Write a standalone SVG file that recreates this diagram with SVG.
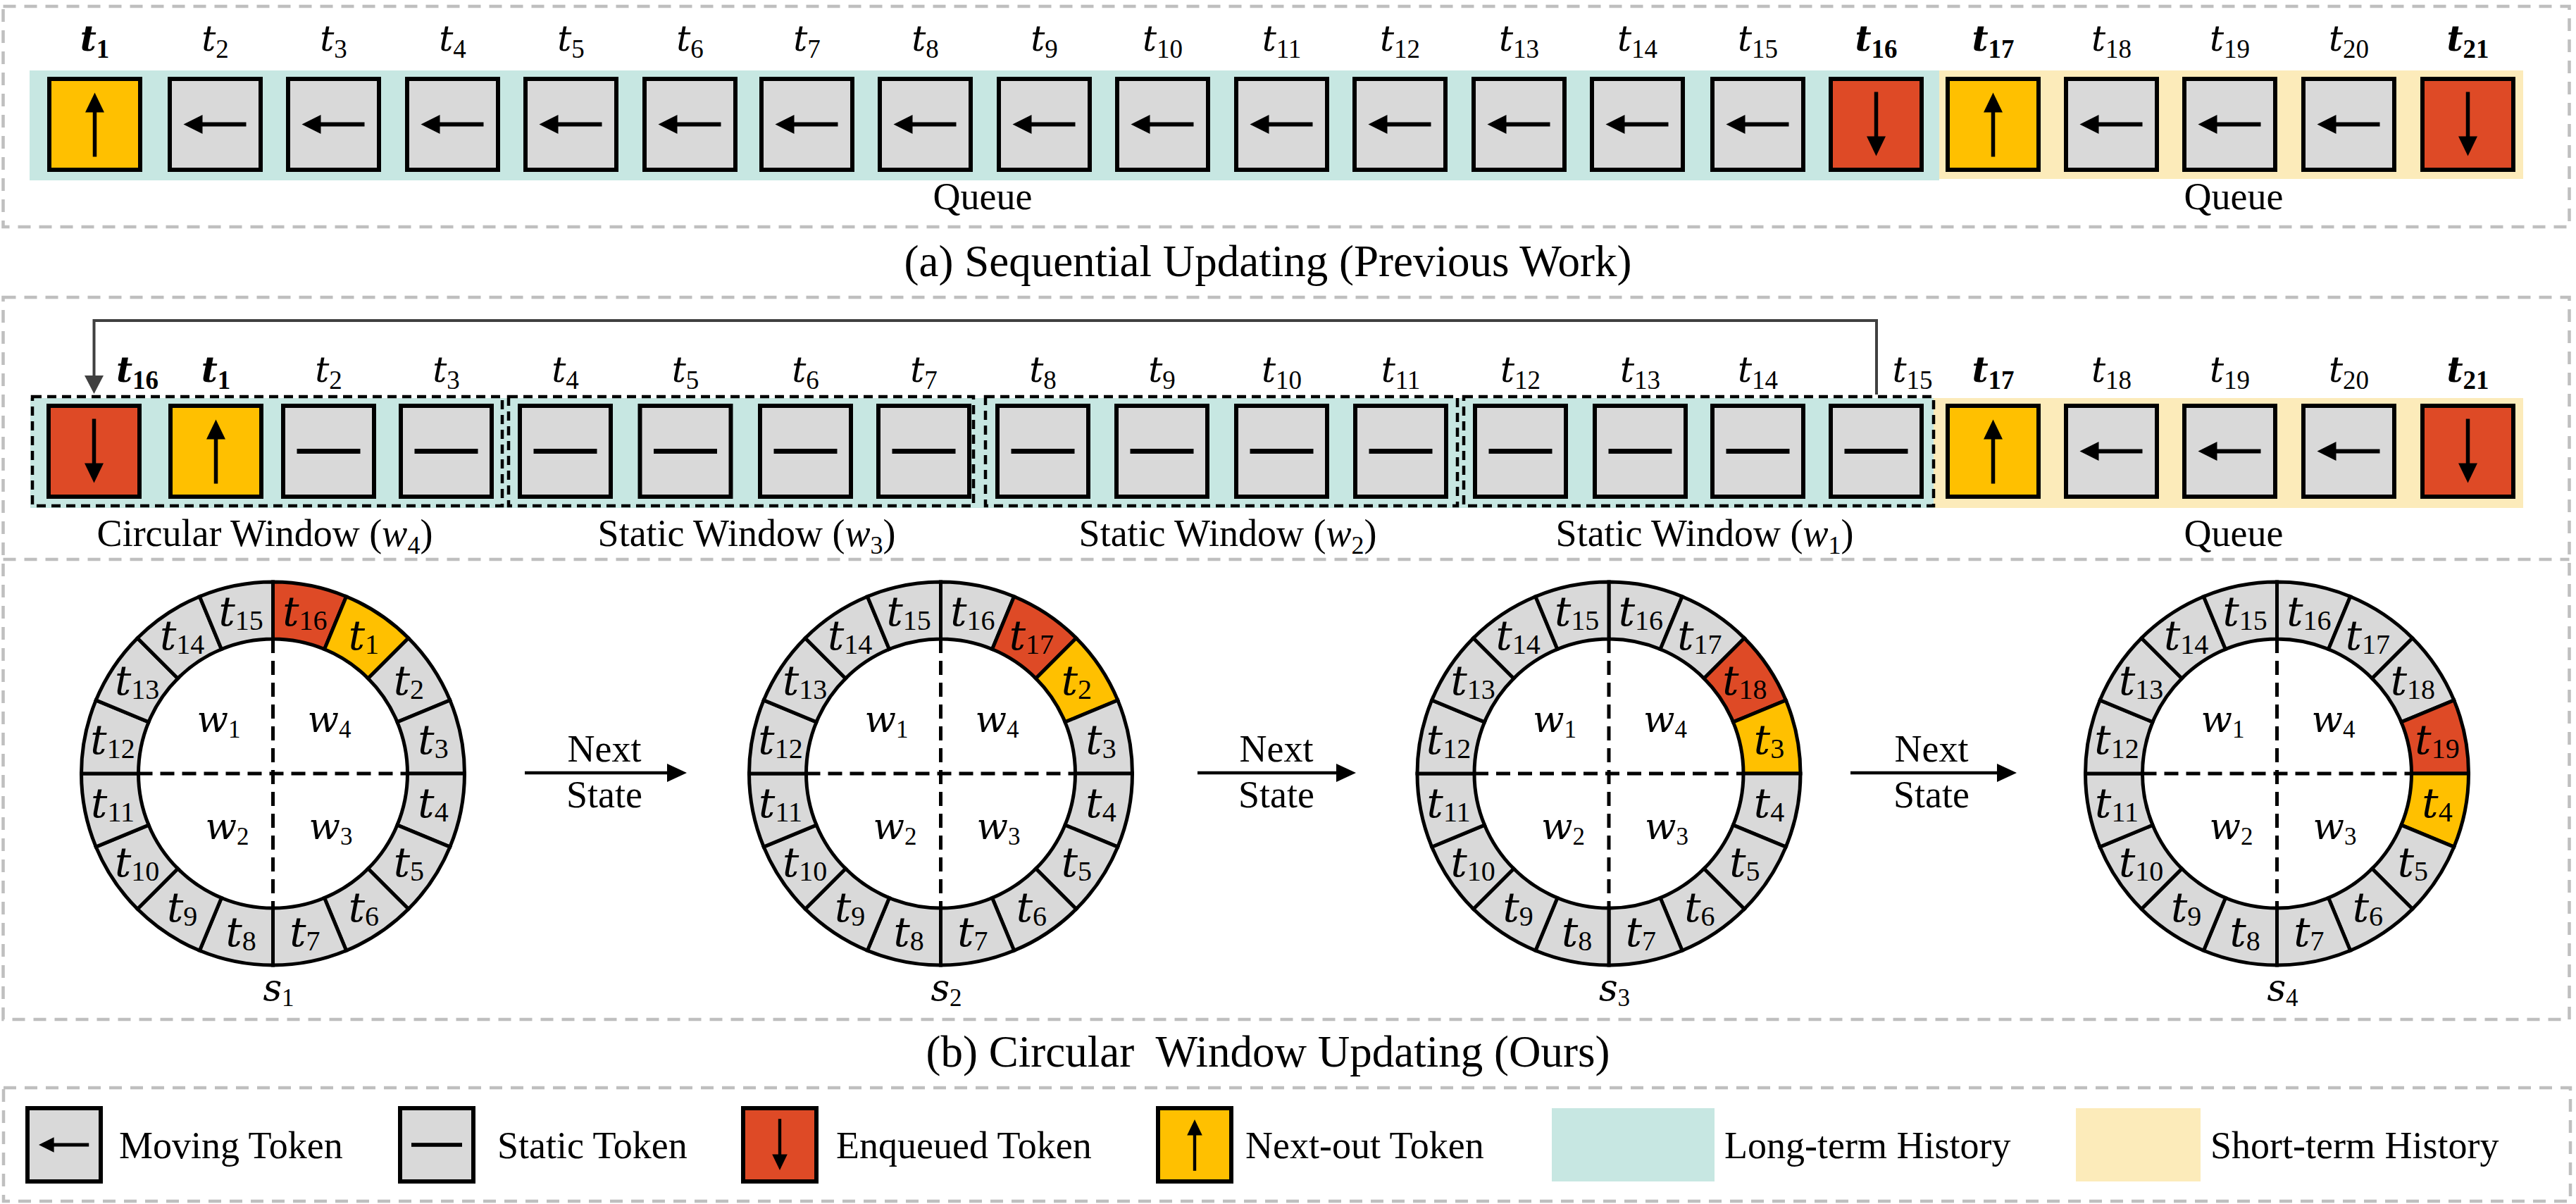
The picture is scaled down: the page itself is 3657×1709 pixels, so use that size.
<svg xmlns="http://www.w3.org/2000/svg" xmlns:xlink="http://www.w3.org/1999/xlink" width="3657" height="1709" viewBox="0 0 3657 1709">
<style>
.tk{stroke:#000;stroke-width:6}
.gy{fill:#D9D9D9}.rd{fill:#DE4A26}.yl{fill:#FFC000}
.lb{font-family:"DejaVu Serif",serif;font-style:italic;font-size:50px;text-anchor:middle;fill:#000}
.sb{font-family:"Liberation Serif",serif;font-style:normal;font-size:37px}
.b{font-weight:bold}
.tx{font-family:"Liberation Serif",serif;font-size:54px;fill:#000;text-anchor:middle}
.ts{text-anchor:start}
.cap{font-size:63px}
.wi{font-style:italic}
.ws{font-size:36px}
.panel{fill:none;stroke:#BFBFBF;stroke-width:4.5;stroke-dasharray:18 12}
.win{fill:none;stroke:#000;stroke-width:4.5;stroke-dasharray:13 8}
.sg{stroke:#000;stroke-width:5}
.cl{font-family:"DejaVu Serif",serif;font-style:italic;font-size:58px;text-anchor:middle;fill:#000}
.cs{font-family:"Liberation Serif",serif;font-style:normal;font-size:40px}
.wl{font-family:"DejaVu Serif",serif;font-style:italic;font-size:52px;text-anchor:middle;fill:#000}
.wsb{font-family:"Liberation Serif",serif;font-style:normal;font-size:35px}
.dl{stroke:#000;stroke-width:5;stroke-dasharray:20 11}
.teal{fill:#C7E7E2}.cream{fill:#FCEBBA}
</style>
<defs>
<marker id="ahg" viewBox="0 0 26 27" refX="8" refY="13.5" markerWidth="26" markerHeight="27" markerUnits="userSpaceOnUse" orient="auto"><path d="M0,0 L26,13.5 L0,27 Z" fill="#404040"/></marker>
<marker id="ahb" viewBox="0 0 28 26" refX="8" refY="13" markerWidth="28" markerHeight="26" markerUnits="userSpaceOnUse" orient="auto"><path d="M0,0 L28,13 L0,26 Z" fill="#000"/></marker>
<g id="gl"><line x1="44" y1="0" x2="-22" y2="0" stroke="#000" stroke-width="6"/><polygon points="-45,0 -18,-13.5 -18,13.5" fill="#000"/></g>
<g id="gu"><line x1="0" y1="46" x2="0" y2="-20" stroke="#000" stroke-width="5.5"/><polygon points="0,-45 -13.5,-17 13.5,-17" fill="#000"/></g>
<g id="gd"><line x1="0" y1="-46" x2="0" y2="20" stroke="#000" stroke-width="5.5"/><polygon points="0,45 -13.5,17 13.5,17" fill="#000"/></g>
<g id="gb"><rect x="-45" y="-3.5" width="90" height="7" fill="#000"/></g>
<path id="s0" d="M0,-272 A272,272 0 0 1 104.09,-251.3 L73.09,-176.46 A191,191 0 0 0 0,-191 Z"/>
<path id="s1" d="M104.09,-251.3 A272,272 0 0 1 192.33,-192.33 L135.06,-135.06 A191,191 0 0 0 73.09,-176.46 Z"/>
<path id="s2" d="M192.33,-192.33 A272,272 0 0 1 251.3,-104.09 L176.46,-73.09 A191,191 0 0 0 135.06,-135.06 Z"/>
<path id="s3" d="M251.3,-104.09 A272,272 0 0 1 272,0 L191,0 A191,191 0 0 0 176.46,-73.09 Z"/>
<path id="s4" d="M272,0 A272,272 0 0 1 251.3,104.09 L176.46,73.09 A191,191 0 0 0 191,0 Z"/>
<path id="s5" d="M251.3,104.09 A272,272 0 0 1 192.33,192.33 L135.06,135.06 A191,191 0 0 0 176.46,73.09 Z"/>
<path id="s6" d="M192.33,192.33 A272,272 0 0 1 104.09,251.3 L73.09,176.46 A191,191 0 0 0 135.06,135.06 Z"/>
<path id="s7" d="M104.09,251.3 A272,272 0 0 1 0,272 L0,191 A191,191 0 0 0 73.09,176.46 Z"/>
<path id="s8" d="M0,272 A272,272 0 0 1 -104.09,251.3 L-73.09,176.46 A191,191 0 0 0 0,191 Z"/>
<path id="s9" d="M-104.09,251.3 A272,272 0 0 1 -192.33,192.33 L-135.06,135.06 A191,191 0 0 0 -73.09,176.46 Z"/>
<path id="s10" d="M-192.33,192.33 A272,272 0 0 1 -251.3,104.09 L-176.46,73.09 A191,191 0 0 0 -135.06,135.06 Z"/>
<path id="s11" d="M-251.3,104.09 A272,272 0 0 1 -272,0 L-191,0 A191,191 0 0 0 -176.46,73.09 Z"/>
<path id="s12" d="M-272,0 A272,272 0 0 1 -251.3,-104.09 L-176.46,-73.09 A191,191 0 0 0 -191,0 Z"/>
<path id="s13" d="M-251.3,-104.09 A272,272 0 0 1 -192.33,-192.33 L-135.06,-135.06 A191,191 0 0 0 -176.46,-73.09 Z"/>
<path id="s14" d="M-192.33,-192.33 A272,272 0 0 1 -104.09,-251.3 L-73.09,-176.46 A191,191 0 0 0 -135.06,-135.06 Z"/>
<path id="s15" d="M-104.09,-251.3 A272,272 0 0 1 0,-272 L0,-191 A191,191 0 0 0 -73.09,-176.46 Z"/>
<g id="quad"><line class="dl" x1="0" y1="-191" x2="0" y2="191"/><line class="dl" x1="-191" y1="0" x2="191" y2="0"/></g>
</defs>
<rect width="3657" height="1709" fill="#fff"/>

<!-- Panel (a) -->
<g id="panel-a">
<rect class="panel" x="4.5" y="9" width="3643" height="313"/>
<rect class="teal" x="42" y="100" width="2711" height="156"/>
<rect class="cream" x="2753" y="100" width="829" height="154"/>
<text class="tx" x="1395" y="297">Queue</text>
<text class="tx" x="3171" y="297">Queue</text>
</g>
<g id="a-t1"><rect class="tk yl" x="70" y="112" width="129" height="129"/><use href="#gu" x="134.5" y="176.5"/><text class="lb b" x="134.5" y="72">t<tspan class="sb" dy="10">1</tspan></text></g>
<g id="a-t2"><rect class="tk gy" x="241" y="112" width="129" height="129"/><use href="#gl" x="305.5" y="176.5"/><text class="lb" x="305.5" y="72">t<tspan class="sb" dy="10">2</tspan></text></g>
<g id="a-t3"><rect class="tk gy" x="409" y="112" width="129" height="129"/><use href="#gl" x="473.5" y="176.5"/><text class="lb" x="473.5" y="72">t<tspan class="sb" dy="10">3</tspan></text></g>
<g id="a-t4"><rect class="tk gy" x="578" y="112" width="129" height="129"/><use href="#gl" x="642.5" y="176.5"/><text class="lb" x="642.5" y="72">t<tspan class="sb" dy="10">4</tspan></text></g>
<g id="a-t5"><rect class="tk gy" x="746" y="112" width="129" height="129"/><use href="#gl" x="810.5" y="176.5"/><text class="lb" x="810.5" y="72">t<tspan class="sb" dy="10">5</tspan></text></g>
<g id="a-t6"><rect class="tk gy" x="915" y="112" width="129" height="129"/><use href="#gl" x="979.5" y="176.5"/><text class="lb" x="979.5" y="72">t<tspan class="sb" dy="10">6</tspan></text></g>
<g id="a-t7"><rect class="tk gy" x="1081" y="112" width="129" height="129"/><use href="#gl" x="1145.5" y="176.5"/><text class="lb" x="1145.5" y="72">t<tspan class="sb" dy="10">7</tspan></text></g>
<g id="a-t8"><rect class="tk gy" x="1249" y="112" width="129" height="129"/><use href="#gl" x="1313.5" y="176.5"/><text class="lb" x="1313.5" y="72">t<tspan class="sb" dy="10">8</tspan></text></g>
<g id="a-t9"><rect class="tk gy" x="1418" y="112" width="129" height="129"/><use href="#gl" x="1482.5" y="176.5"/><text class="lb" x="1482.5" y="72">t<tspan class="sb" dy="10">9</tspan></text></g>
<g id="a-t10"><rect class="tk gy" x="1586" y="112" width="129" height="129"/><use href="#gl" x="1650.5" y="176.5"/><text class="lb" x="1650.5" y="72">t<tspan class="sb" dy="10">10</tspan></text></g>
<g id="a-t11"><rect class="tk gy" x="1755" y="112" width="129" height="129"/><use href="#gl" x="1819.5" y="176.5"/><text class="lb" x="1819.5" y="72">t<tspan class="sb" dy="10">11</tspan></text></g>
<g id="a-t12"><rect class="tk gy" x="1923" y="112" width="129" height="129"/><use href="#gl" x="1987.5" y="176.5"/><text class="lb" x="1987.5" y="72">t<tspan class="sb" dy="10">12</tspan></text></g>
<g id="a-t13"><rect class="tk gy" x="2092" y="112" width="129" height="129"/><use href="#gl" x="2156.5" y="176.5"/><text class="lb" x="2156.5" y="72">t<tspan class="sb" dy="10">13</tspan></text></g>
<g id="a-t14"><rect class="tk gy" x="2260" y="112" width="129" height="129"/><use href="#gl" x="2324.5" y="176.5"/><text class="lb" x="2324.5" y="72">t<tspan class="sb" dy="10">14</tspan></text></g>
<g id="a-t15"><rect class="tk gy" x="2431" y="112" width="129" height="129"/><use href="#gl" x="2495.5" y="176.5"/><text class="lb" x="2495.5" y="72">t<tspan class="sb" dy="10">15</tspan></text></g>
<g id="a-t16"><rect class="tk rd" x="2599" y="112" width="129" height="129"/><use href="#gd" x="2663.5" y="176.5"/><text class="lb b" x="2663.5" y="72">t<tspan class="sb" dy="10">16</tspan></text></g>
<g id="a-t17"><rect class="tk yl" x="2765" y="112" width="129" height="129"/><use href="#gu" x="2829.5" y="176.5"/><text class="lb b" x="2829.5" y="72">t<tspan class="sb" dy="10">17</tspan></text></g>
<g id="a-t18"><rect class="tk gy" x="2933" y="112" width="129" height="129"/><use href="#gl" x="2997.5" y="176.5"/><text class="lb" x="2997.5" y="72">t<tspan class="sb" dy="10">18</tspan></text></g>
<g id="a-t19"><rect class="tk gy" x="3101" y="112" width="129" height="129"/><use href="#gl" x="3165.5" y="176.5"/><text class="lb" x="3165.5" y="72">t<tspan class="sb" dy="10">19</tspan></text></g>
<g id="a-t20"><rect class="tk gy" x="3270" y="112" width="129" height="129"/><use href="#gl" x="3334.5" y="176.5"/><text class="lb" x="3334.5" y="72">t<tspan class="sb" dy="10">20</tspan></text></g>
<g id="a-t21"><rect class="tk rd" x="3439" y="112" width="129" height="129"/><use href="#gd" x="3503.5" y="176.5"/><text class="lb b" x="3503.5" y="72">t<tspan class="sb" dy="10">21</tspan></text></g>
<text id="caption-a" class="tx cap" x="1800" y="392">(a) Sequential Updating (Previous Work)</text>

<!-- Panel (b) -->
<g id="panel-b">
<rect class="panel" x="4.5" y="422" width="3643" height="1025"/>
<line class="panel" x1="4.5" y1="794" x2="3647.5" y2="794"/>
<rect class="teal" x="43" y="565" width="2702" height="156"/>
<rect class="cream" x="2745" y="565" width="837" height="156"/>
</g>
<g id="b-t16"><rect class="tk rd" x="69" y="576" width="129" height="129"/><use href="#gd" x="133.5" y="640.5"/><text class="lb b" x="195" y="542">t<tspan class="sb" dy="10">16</tspan></text></g>
<g id="b-t1"><rect class="tk yl" x="242" y="576" width="129" height="129"/><use href="#gu" x="306.5" y="640.5"/><text class="lb b" x="306.5" y="542">t<tspan class="sb" dy="10">1</tspan></text></g>
<g id="b-t2"><rect class="tk gy" x="402" y="576" width="129" height="129"/><use href="#gb" x="466.5" y="640.5"/><text class="lb" x="466.5" y="542">t<tspan class="sb" dy="10">2</tspan></text></g>
<g id="b-t3"><rect class="tk gy" x="569" y="576" width="129" height="129"/><use href="#gb" x="633.5" y="640.5"/><text class="lb" x="633.5" y="542">t<tspan class="sb" dy="10">3</tspan></text></g>
<g id="b-t4"><rect class="tk gy" x="738" y="576" width="129" height="129"/><use href="#gb" x="802.5" y="640.5"/><text class="lb" x="802.5" y="542">t<tspan class="sb" dy="10">4</tspan></text></g>
<g id="b-t5"><rect class="tk gy" x="908.5" y="576" width="129" height="129"/><use href="#gb" x="973" y="640.5"/><text class="lb" x="973" y="542">t<tspan class="sb" dy="10">5</tspan></text></g>
<g id="b-t6"><rect class="tk gy" x="1079" y="576" width="129" height="129"/><use href="#gb" x="1143.5" y="640.5"/><text class="lb" x="1143.5" y="542">t<tspan class="sb" dy="10">6</tspan></text></g>
<g id="b-t7"><rect class="tk gy" x="1247" y="576" width="129" height="129"/><use href="#gb" x="1311.5" y="640.5"/><text class="lb" x="1311.5" y="542">t<tspan class="sb" dy="10">7</tspan></text></g>
<g id="b-t8"><rect class="tk gy" x="1416" y="576" width="129" height="129"/><use href="#gb" x="1480.5" y="640.5"/><text class="lb" x="1480.5" y="542">t<tspan class="sb" dy="10">8</tspan></text></g>
<g id="b-t9"><rect class="tk gy" x="1585" y="576" width="129" height="129"/><use href="#gb" x="1649.5" y="640.5"/><text class="lb" x="1649.5" y="542">t<tspan class="sb" dy="10">9</tspan></text></g>
<g id="b-t10"><rect class="tk gy" x="1755" y="576" width="129" height="129"/><use href="#gb" x="1819.5" y="640.5"/><text class="lb" x="1819.5" y="542">t<tspan class="sb" dy="10">10</tspan></text></g>
<g id="b-t11"><rect class="tk gy" x="1924" y="576" width="129" height="129"/><use href="#gb" x="1988.5" y="640.5"/><text class="lb" x="1988.5" y="542">t<tspan class="sb" dy="10">11</tspan></text></g>
<g id="b-t12"><rect class="tk gy" x="2094" y="576" width="129" height="129"/><use href="#gb" x="2158.5" y="640.5"/><text class="lb" x="2158.5" y="542">t<tspan class="sb" dy="10">12</tspan></text></g>
<g id="b-t13"><rect class="tk gy" x="2264" y="576" width="129" height="129"/><use href="#gb" x="2328.5" y="640.5"/><text class="lb" x="2328.5" y="542">t<tspan class="sb" dy="10">13</tspan></text></g>
<g id="b-t14"><rect class="tk gy" x="2431" y="576" width="129" height="129"/><use href="#gb" x="2495.5" y="640.5"/><text class="lb" x="2495.5" y="542">t<tspan class="sb" dy="10">14</tspan></text></g>
<g id="b-t15"><rect class="tk gy" x="2599" y="576" width="129" height="129"/><use href="#gb" x="2663.5" y="640.5"/><text class="lb" x="2715" y="542">t<tspan class="sb" dy="10">15</tspan></text></g>
<g id="b-t17"><rect class="tk yl" x="2765" y="576" width="129" height="129"/><use href="#gu" x="2829.5" y="640.5"/><text class="lb b" x="2829.5" y="542">t<tspan class="sb" dy="10">17</tspan></text></g>
<g id="b-t18"><rect class="tk gy" x="2933" y="576" width="129" height="129"/><use href="#gl" x="2997.5" y="640.5"/><text class="lb" x="2997.5" y="542">t<tspan class="sb" dy="10">18</tspan></text></g>
<g id="b-t19"><rect class="tk gy" x="3101" y="576" width="129" height="129"/><use href="#gl" x="3165.5" y="640.5"/><text class="lb" x="3165.5" y="542">t<tspan class="sb" dy="10">19</tspan></text></g>
<g id="b-t20"><rect class="tk gy" x="3270" y="576" width="129" height="129"/><use href="#gl" x="3334.5" y="640.5"/><text class="lb" x="3334.5" y="542">t<tspan class="sb" dy="10">20</tspan></text></g>
<g id="b-t21"><rect class="tk rd" x="3439" y="576" width="129" height="129"/><use href="#gd" x="3503.5" y="640.5"/><text class="lb b" x="3503.5" y="542">t<tspan class="sb" dy="10">21</tspan></text></g>

<g id="win-w4"><rect class="win" x="46" y="563" width="667" height="155"/><text class="tx" x="376" y="775">Circular Window (<tspan class="wi">w</tspan><tspan class="ws" dy="11">4</tspan><tspan dy="-11">)</tspan></text></g>
<g id="win-w3"><rect class="win" x="722" y="563" width="660" height="155"/><text class="tx" x="1060" y="775">Static Window (<tspan class="wi">w</tspan><tspan class="ws" dy="11">3</tspan><tspan dy="-11">)</tspan></text></g>
<g id="win-w2"><rect class="win" x="1399" y="563" width="670" height="155"/><text class="tx" x="1743" y="775">Static Window (<tspan class="wi">w</tspan><tspan class="ws" dy="11">2</tspan><tspan dy="-11">)</tspan></text></g>
<g id="win-w1"><rect class="win" x="2078" y="563" width="667" height="155"/><text class="tx" x="2420" y="775">Static Window (<tspan class="wi">w</tspan><tspan class="ws" dy="11">1</tspan><tspan dy="-11">)</tspan></text></g>
<text id="queue-b" class="tx" x="3171" y="775">Queue</text>

<!-- Circles -->
<g id="state-s1" transform="translate(387.5,1098)">
<use href="#s0" class="sg rd"/><use href="#s1" class="sg yl"/><use href="#s2" class="sg gy"/><use href="#s3" class="sg gy"/><use href="#s4" class="sg gy"/><use href="#s5" class="sg gy"/><use href="#s6" class="sg gy"/><use href="#s7" class="sg gy"/><use href="#s8" class="sg gy"/><use href="#s9" class="sg gy"/><use href="#s10" class="sg gy"/><use href="#s11" class="sg gy"/><use href="#s12" class="sg gy"/><use href="#s13" class="sg gy"/><use href="#s14" class="sg gy"/><use href="#s15" class="sg gy"/>
<use href="#quad"/>
<text class="cl" x="45.3" y="-210.5">t<tspan class="cs" dy="6">16</tspan></text>
<text class="cl" x="128.9" y="-175.9">t<tspan class="cs" dy="6">1</tspan></text>
<text class="cl" x="192.9" y="-111.9">t<tspan class="cs" dy="6">2</tspan></text>
<text class="cl" x="227.5" y="-28.3">t<tspan class="cs" dy="6">3</tspan></text>
<text class="cl" x="227.5" y="62.3">t<tspan class="cs" dy="6">4</tspan></text>
<text class="cl" x="192.9" y="145.9">t<tspan class="cs" dy="6">5</tspan></text>
<text class="cl" x="128.9" y="209.9">t<tspan class="cs" dy="6">6</tspan></text>
<text class="cl" x="45.3" y="244.5">t<tspan class="cs" dy="6">7</tspan></text>
<text class="cl" x="-45.3" y="244.5">t<tspan class="cs" dy="6">8</tspan></text>
<text class="cl" x="-128.9" y="209.9">t<tspan class="cs" dy="6">9</tspan></text>
<text class="cl" x="-192.9" y="145.9">t<tspan class="cs" dy="6">10</tspan></text>
<text class="cl" x="-227.5" y="62.3">t<tspan class="cs" dy="6">11</tspan></text>
<text class="cl" x="-227.5" y="-28.3">t<tspan class="cs" dy="6">12</tspan></text>
<text class="cl" x="-192.9" y="-111.9">t<tspan class="cs" dy="6">13</tspan></text>
<text class="cl" x="-128.9" y="-175.9">t<tspan class="cs" dy="6">14</tspan></text>
<text class="cl" x="-45.3" y="-210.5">t<tspan class="cs" dy="6">15</tspan></text>
<text class="wl" x="-77" y="-59">w<tspan class="wsb" dy="8">1</tspan></text>
<text class="wl" x="80" y="-59">w<tspan class="wsb" dy="8">4</tspan></text>
<text class="wl" x="-65" y="93">w<tspan class="wsb" dy="8">2</tspan></text>
<text class="wl" x="82" y="93">w<tspan class="wsb" dy="8">3</tspan></text>
<text class="wl" x="8" y="322">s<tspan class="wsb" dy="8">1</tspan></text>
</g>
<g id="state-s2" transform="translate(1335.5,1098)">
<use href="#s0" class="sg gy"/><use href="#s1" class="sg rd"/><use href="#s2" class="sg yl"/><use href="#s3" class="sg gy"/><use href="#s4" class="sg gy"/><use href="#s5" class="sg gy"/><use href="#s6" class="sg gy"/><use href="#s7" class="sg gy"/><use href="#s8" class="sg gy"/><use href="#s9" class="sg gy"/><use href="#s10" class="sg gy"/><use href="#s11" class="sg gy"/><use href="#s12" class="sg gy"/><use href="#s13" class="sg gy"/><use href="#s14" class="sg gy"/><use href="#s15" class="sg gy"/>
<use href="#quad"/>
<text class="cl" x="45.3" y="-210.5">t<tspan class="cs" dy="6">16</tspan></text>
<text class="cl" x="128.9" y="-175.9">t<tspan class="cs" dy="6">17</tspan></text>
<text class="cl" x="192.9" y="-111.9">t<tspan class="cs" dy="6">2</tspan></text>
<text class="cl" x="227.5" y="-28.3">t<tspan class="cs" dy="6">3</tspan></text>
<text class="cl" x="227.5" y="62.3">t<tspan class="cs" dy="6">4</tspan></text>
<text class="cl" x="192.9" y="145.9">t<tspan class="cs" dy="6">5</tspan></text>
<text class="cl" x="128.9" y="209.9">t<tspan class="cs" dy="6">6</tspan></text>
<text class="cl" x="45.3" y="244.5">t<tspan class="cs" dy="6">7</tspan></text>
<text class="cl" x="-45.3" y="244.5">t<tspan class="cs" dy="6">8</tspan></text>
<text class="cl" x="-128.9" y="209.9">t<tspan class="cs" dy="6">9</tspan></text>
<text class="cl" x="-192.9" y="145.9">t<tspan class="cs" dy="6">10</tspan></text>
<text class="cl" x="-227.5" y="62.3">t<tspan class="cs" dy="6">11</tspan></text>
<text class="cl" x="-227.5" y="-28.3">t<tspan class="cs" dy="6">12</tspan></text>
<text class="cl" x="-192.9" y="-111.9">t<tspan class="cs" dy="6">13</tspan></text>
<text class="cl" x="-128.9" y="-175.9">t<tspan class="cs" dy="6">14</tspan></text>
<text class="cl" x="-45.3" y="-210.5">t<tspan class="cs" dy="6">15</tspan></text>
<text class="wl" x="-77" y="-59">w<tspan class="wsb" dy="8">1</tspan></text>
<text class="wl" x="80" y="-59">w<tspan class="wsb" dy="8">4</tspan></text>
<text class="wl" x="-65" y="93">w<tspan class="wsb" dy="8">2</tspan></text>
<text class="wl" x="82" y="93">w<tspan class="wsb" dy="8">3</tspan></text>
<text class="wl" x="8" y="322">s<tspan class="wsb" dy="8">2</tspan></text>
</g>
<g id="state-s3" transform="translate(2284,1098)">
<use href="#s0" class="sg gy"/><use href="#s1" class="sg gy"/><use href="#s2" class="sg rd"/><use href="#s3" class="sg yl"/><use href="#s4" class="sg gy"/><use href="#s5" class="sg gy"/><use href="#s6" class="sg gy"/><use href="#s7" class="sg gy"/><use href="#s8" class="sg gy"/><use href="#s9" class="sg gy"/><use href="#s10" class="sg gy"/><use href="#s11" class="sg gy"/><use href="#s12" class="sg gy"/><use href="#s13" class="sg gy"/><use href="#s14" class="sg gy"/><use href="#s15" class="sg gy"/>
<use href="#quad"/>
<text class="cl" x="45.3" y="-210.5">t<tspan class="cs" dy="6">16</tspan></text>
<text class="cl" x="128.9" y="-175.9">t<tspan class="cs" dy="6">17</tspan></text>
<text class="cl" x="192.9" y="-111.9">t<tspan class="cs" dy="6">18</tspan></text>
<text class="cl" x="227.5" y="-28.3">t<tspan class="cs" dy="6">3</tspan></text>
<text class="cl" x="227.5" y="62.3">t<tspan class="cs" dy="6">4</tspan></text>
<text class="cl" x="192.9" y="145.9">t<tspan class="cs" dy="6">5</tspan></text>
<text class="cl" x="128.9" y="209.9">t<tspan class="cs" dy="6">6</tspan></text>
<text class="cl" x="45.3" y="244.5">t<tspan class="cs" dy="6">7</tspan></text>
<text class="cl" x="-45.3" y="244.5">t<tspan class="cs" dy="6">8</tspan></text>
<text class="cl" x="-128.9" y="209.9">t<tspan class="cs" dy="6">9</tspan></text>
<text class="cl" x="-192.9" y="145.9">t<tspan class="cs" dy="6">10</tspan></text>
<text class="cl" x="-227.5" y="62.3">t<tspan class="cs" dy="6">11</tspan></text>
<text class="cl" x="-227.5" y="-28.3">t<tspan class="cs" dy="6">12</tspan></text>
<text class="cl" x="-192.9" y="-111.9">t<tspan class="cs" dy="6">13</tspan></text>
<text class="cl" x="-128.9" y="-175.9">t<tspan class="cs" dy="6">14</tspan></text>
<text class="cl" x="-45.3" y="-210.5">t<tspan class="cs" dy="6">15</tspan></text>
<text class="wl" x="-77" y="-59">w<tspan class="wsb" dy="8">1</tspan></text>
<text class="wl" x="80" y="-59">w<tspan class="wsb" dy="8">4</tspan></text>
<text class="wl" x="-65" y="93">w<tspan class="wsb" dy="8">2</tspan></text>
<text class="wl" x="82" y="93">w<tspan class="wsb" dy="8">3</tspan></text>
<text class="wl" x="8" y="322">s<tspan class="wsb" dy="8">3</tspan></text>
</g>
<g id="state-s4" transform="translate(3232.5,1098)">
<use href="#s0" class="sg gy"/><use href="#s1" class="sg gy"/><use href="#s2" class="sg gy"/><use href="#s3" class="sg rd"/><use href="#s4" class="sg yl"/><use href="#s5" class="sg gy"/><use href="#s6" class="sg gy"/><use href="#s7" class="sg gy"/><use href="#s8" class="sg gy"/><use href="#s9" class="sg gy"/><use href="#s10" class="sg gy"/><use href="#s11" class="sg gy"/><use href="#s12" class="sg gy"/><use href="#s13" class="sg gy"/><use href="#s14" class="sg gy"/><use href="#s15" class="sg gy"/>
<use href="#quad"/>
<text class="cl" x="45.3" y="-210.5">t<tspan class="cs" dy="6">16</tspan></text>
<text class="cl" x="128.9" y="-175.9">t<tspan class="cs" dy="6">17</tspan></text>
<text class="cl" x="192.9" y="-111.9">t<tspan class="cs" dy="6">18</tspan></text>
<text class="cl" x="227.5" y="-28.3">t<tspan class="cs" dy="6">19</tspan></text>
<text class="cl" x="227.5" y="62.3">t<tspan class="cs" dy="6">4</tspan></text>
<text class="cl" x="192.9" y="145.9">t<tspan class="cs" dy="6">5</tspan></text>
<text class="cl" x="128.9" y="209.9">t<tspan class="cs" dy="6">6</tspan></text>
<text class="cl" x="45.3" y="244.5">t<tspan class="cs" dy="6">7</tspan></text>
<text class="cl" x="-45.3" y="244.5">t<tspan class="cs" dy="6">8</tspan></text>
<text class="cl" x="-128.9" y="209.9">t<tspan class="cs" dy="6">9</tspan></text>
<text class="cl" x="-192.9" y="145.9">t<tspan class="cs" dy="6">10</tspan></text>
<text class="cl" x="-227.5" y="62.3">t<tspan class="cs" dy="6">11</tspan></text>
<text class="cl" x="-227.5" y="-28.3">t<tspan class="cs" dy="6">12</tspan></text>
<text class="cl" x="-192.9" y="-111.9">t<tspan class="cs" dy="6">13</tspan></text>
<text class="cl" x="-128.9" y="-175.9">t<tspan class="cs" dy="6">14</tspan></text>
<text class="cl" x="-45.3" y="-210.5">t<tspan class="cs" dy="6">15</tspan></text>
<text class="wl" x="-77" y="-59">w<tspan class="wsb" dy="8">1</tspan></text>
<text class="wl" x="80" y="-59">w<tspan class="wsb" dy="8">4</tspan></text>
<text class="wl" x="-65" y="93">w<tspan class="wsb" dy="8">2</tspan></text>
<text class="wl" x="82" y="93">w<tspan class="wsb" dy="8">3</tspan></text>
<text class="wl" x="8" y="322">s<tspan class="wsb" dy="8">4</tspan></text>
</g>

<!-- Connectors -->
<g id="connectors">
<path d="M2664,560 V455 H133.5 V541" fill="none" stroke="#404040" stroke-width="4" marker-end="url(#ahg)"/>
<line x1="745" y1="1097" x2="955" y2="1097" stroke="#000" stroke-width="4.5" marker-end="url(#ahb)"/>
<line x1="1700" y1="1097" x2="1905" y2="1097" stroke="#000" stroke-width="4.5" marker-end="url(#ahb)"/>
<line x1="2627" y1="1097" x2="2843" y2="1097" stroke="#000" stroke-width="4.5" marker-end="url(#ahb)"/>
<text class="tx" x="858" y="1081">Next</text><text class="tx" x="858" y="1146">State</text>
<text class="tx" x="1812" y="1081">Next</text><text class="tx" x="1812" y="1146">State</text>
<text class="tx" x="2742" y="1081">Next</text><text class="tx" x="2742" y="1146">State</text>
</g>
<text id="caption-b" class="tx cap" x="1800" y="1514" xml:space="preserve">(b) Circular  Window Updating (Ours)</text>

<!-- Legend -->
<g id="legend">
<rect class="panel" x="5" y="1544" width="3644" height="161"/>
<g id="leg-moving"><rect class="tk gy" x="39" y="1573" width="104" height="104"/><use href="#gl" transform="translate(91,1625) scale(0.8)"/><text class="tx ts" x="169" y="1644">Moving Token</text></g>
<g id="leg-static"><rect class="tk gy" x="568" y="1573" width="104" height="104"/><use href="#gb" transform="translate(620,1625) scale(0.8)"/><text class="tx ts" x="706" y="1644">Static Token</text></g>
<g id="leg-enq"><rect class="tk rd" x="1055" y="1573" width="104" height="104"/><use href="#gd" transform="translate(1107,1625) scale(0.8)"/><text class="tx ts" x="1187" y="1644">Enqueued Token</text></g>
<g id="leg-next"><rect class="tk yl" x="1644" y="1573" width="104" height="104"/><use href="#gu" transform="translate(1696,1625) scale(0.8)"/><text class="tx ts" x="1768" y="1644">Next-out Token</text></g>
<g id="leg-long"><rect class="teal" x="2203" y="1573" width="231" height="104"/><text class="tx ts" x="2448" y="1644">Long-term History</text></g>
<g id="leg-short"><rect class="cream" x="2947" y="1573" width="177" height="104"/><text class="tx ts" x="3138" y="1644">Short-term History</text></g>
</g>
</svg>
